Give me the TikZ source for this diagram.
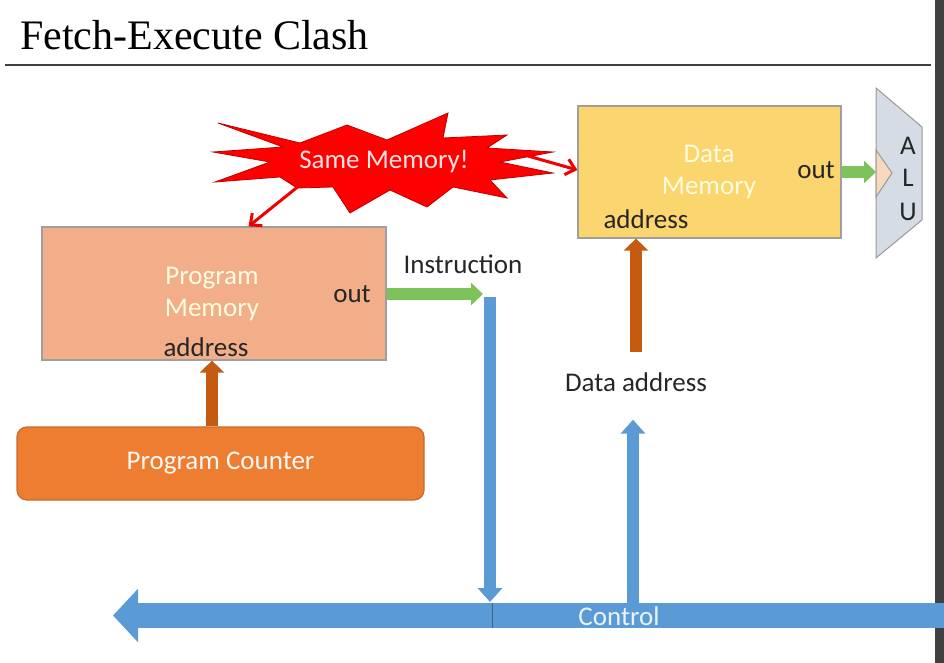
\documentclass[tikz,border=0pt]{standalone}
\usepackage{fontspec}
\setmainfont{Liberation Serif}
\newfontfamily\slidefont{Carlito}
\usepackage{xcolor}
\usetikzlibrary{arrows.meta,positioning,calc}

\definecolor{pmfill}{HTML}{F2AE88}
\definecolor{pcfill}{HTML}{ED7D31}
\definecolor{dmfill}{HTML}{FBD56E}
\definecolor{arrbrown}{HTML}{C55A11}
\definecolor{arrgreen}{HTML}{7DC25A}
\definecolor{arrblue}{HTML}{5B9BD5}
\definecolor{alufill}{HTML}{D6DCE5}
\definecolor{notchfill}{HTML}{F8D9BF}

\begin{document}
\begin{tikzpicture}[x=1pt,y=-1pt,>=latex,
  box/.style={draw=gray!75, line width=1.2pt, inner sep=0pt},
  lbl/.style={font=\slidefont\fontsize{27}{32}\selectfont, text=black!85, inner sep=0pt},
  wlbl/.style={lbl, text=white!88!yellow, align=center},
  brownarr/.style={draw=arrbrown, line width=12pt, -{Triangle[length=12pt,width=24pt]}},
  greenarr/.style={draw=arrgreen, line width=12pt, -{Triangle[length=12pt,width=22pt]}},
  bluearr/.style={draw=arrblue, line width=12pt, -{Triangle[length=14pt,width=24pt]}},
  redarr/.style={draw=red!95!black, line width=3pt, -{Straight Barb[length=9pt,width=16pt]}}]
  \useasboundingbox (0,0) rectangle (944,663);

  % title and rule
  \node[anchor=base west, inner sep=0pt, font=\fontsize{42}{46}\selectfont] (title) at (20,50) {Fetch-Execute Clash};
  \draw[line width=2pt, black!75] (5,65) -- (931,65);
  \fill[black!75] (935,0) rectangle (944,663);

  % boxes
  \node[box, fill=pmfill, minimum width=344pt, minimum height=133pt] (PM) at (214,293.5) {};
  \node[box, fill=pcfill, draw=pcfill!85!black, rounded corners=10pt, minimum width=407pt, minimum height=73pt] (PC) at (220.5,463.5) {};
  \node[box, fill=dmfill, minimum width=263pt, minimum height=132pt] (DM) at (709.5,172) {};

  % box texts
  \node[wlbl] (PMname) at (212,294) {Program\\Memory};
  \node[lbl] (PMout) at (352,294) {out};
  \node[lbl] (PMaddr) at (206,347) {address};
  \node[wlbl, text=white!95!pcfill] (PCname) at (PC) {Program Counter};
  \node[wlbl] (DMname) at (709,172) {Data\\Memory};
  \node[lbl] (DMout) at (816,170) {out};
  \node[lbl] (DMaddr) at (646,219) {address};

  % ALU
  \filldraw[fill=alufill, draw=gray!80, line width=1pt] (876,88) -- (922,127) -- (922,220) -- (876,258) -- cycle;
  \filldraw[fill=notchfill, draw=gray!80, line width=1pt] (876,150) -- (892,173) -- (876,197) -- cycle;
  \coordinate (aluin) at (876,173);
  \foreach \ch/\yy in {A/146, L/178, U/212}
    \node[lbl] at (908,\yy) {\ch};

  % starburst
  \filldraw[fill=red, draw=red!75!black, line width=0.8pt]
    (218,123) -- (300,143) -- (347,125) -- (387,140) -- (448,113) -- (443,138)
    -- (507,135) -- (487,148) -- (553,152) -- (500,162) -- (553,173) -- (490,180)
    -- (507,198) -- (453,187) -- (427,207) -- (390,190) -- (350,213) -- (333,187)
    -- (297,188) -- (280,177) -- (215,182) -- (270,162) -- (213,152) -- (283,147) -- cycle;
  \node[wlbl, text=white!90!red] (same) at (384,162) {Same Memory!};
  \coordinate (burstL) at (300,185);
  \coordinate (burstR) at (528,156);
  \draw[redarr] (burstL) -- ($(PM.north west)!0.6!(PM.north east)$);
  \draw[redarr] (burstR) -- ([yshift=2pt]DM.west);

  % control bus
  \coordinate (busR) at (944,615.5);
  \coordinate (busL) at (113,615.5);
  \draw[draw=arrblue, line width=25pt, -{Triangle[length=25pt,width=52pt]}] (busR) -- (busL);
  \draw[arrblue!65!black, line width=0.8pt] (492,603) -- (492,628);
  \node[wlbl, text=white!88!arrblue] (ctrl) at (619,616) {Control};

  % connectors
  \draw[brownarr] ([xshift=6pt]PC.north -| PMaddr) -- ([xshift=6pt]PM.south -| PMaddr);
  \coordinate (instr) at (483,294);
  \draw[greenarr] (PM.east |- instr) -- (instr);
  \node[lbl] (instrlbl) at (463,264) {Instruction};
  \coordinate (tap1) at (490,602);
  \draw[bluearr] (490,297) -- (tap1);
  \node[lbl] (daddr) at (636,382) {Data address};
  \coordinate (tap2) at (633,603);
  \draw[bluearr, shorten >=28pt] (tap2) -- (tap2 |- daddr.south);
  \draw[brownarr, shorten <=20pt] (daddr.north) -- (daddr.north |- DM.south);
  \draw[greenarr] (DM.east) -- (DM.east -| aluin);
\end{tikzpicture}
\end{document}
